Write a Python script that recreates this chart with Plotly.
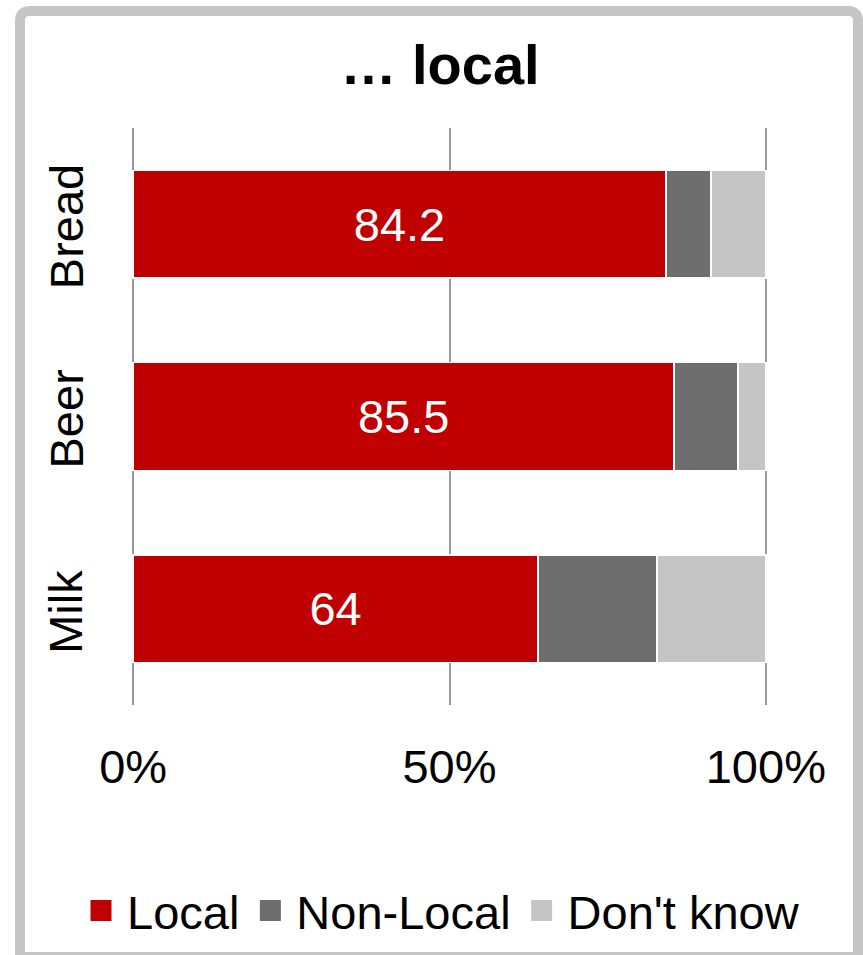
import plotly.graph_objects as go

# Share of respondents by where the product comes from
categories = ["Bread", "Beer", "Milk"]
local = [84.2, 85.5, 64.0]
non_local = [7.1, 10.1, 18.8]
dont_know = [8.7, 4.4, 17.2]

series_names = ["Local", "Non-Local", "Don't know"]
series_values = [local, non_local, dont_know]
series_colors = ["#c00000", "#6e6e6e", "#c5c5c5"]

x_tick_values = [0, 50, 100]
x_tick_labels = ["0%", "50%", "100%"]
title_text = "\u2026 local"

FONT = "Liberation Sans, Arial, sans-serif"
FS = 47
W, H = 863, 955
# plot area spans a tiny bit beyond 0..100 so edge gridlines are drawn
X_RANGE = [-0.5, 100.5]
ML, MR, MT, MB = 130, 94, 128, 250
PW, PH = W - ML - MR, H - MT - MB


def px(x):
    return (x - ML) / PW


def py(y):
    return (H - MB - y) / PH


fig = go.Figure()

for name, vals, color in zip(series_names, series_values, series_colors):
    is_local = name == "Local"
    fig.add_trace(go.Bar(
        y=categories,
        x=vals,
        name=name,
        orientation="h",
        marker=dict(color=color, line=dict(color="white", width=1.5)),
        text=[f"{v:g}" for v in vals] if is_local else None,
        textposition="inside" if is_local else "none",
        insidetextanchor="middle",
        textfont=dict(color="white", size=FS, family=FONT),
        showlegend=False,
        hoverinfo="x+y+name",
    ))

# Legend entries with larger square swatches
for name, color in zip(series_names, series_colors):
    fig.add_trace(go.Scatter(
        x=[None], y=[None], mode="markers", name=name,
        marker=dict(symbol="square", size=16, color=color,
                    line=dict(color=color, width=5)),
        showlegend=True,
    ))

# Vertical category labels centred on each bar
for cat in categories:
    fig.add_annotation(
        x=px(66), xref="paper", y=cat, yref="y",
        text=cat, textangle=-90, showarrow=False,
        xanchor="center", yanchor="middle", yshift=-3,
        font=dict(size=FS, family=FONT, color="black"),
    )

# Rounded grey frame around the chart
x0, y0, x1, y1, r = px(20), py(11), px(858), py(957), 10
rx, ry = r / PW, r / PH
frame = (
    f"M {x0},{y1} L {x0},{y0 - ry} Q {x0},{y0} {x0 + rx},{y0} "
    f"L {x1 - rx},{y0} Q {x1},{y0} {x1},{y0 - ry} L {x1},{y1} Z"
)
fig.add_shape(type="path", path=frame, xref="paper", yref="paper",
              line=dict(color="#c6c6c6", width=10))

fig.update_layout(
    width=W, height=H,
    margin=dict(l=ML, r=MR, t=MT, b=MB, autoexpand=False),
    paper_bgcolor="white", plot_bgcolor="white",
    barmode="stack",
    bargap=0.44,
    font=dict(family=FONT, color="black", size=FS),
    title=dict(text=title_text, x=440 / W, xanchor="center",
               y=1 - 64 / H, yanchor="middle",
               font=dict(size=56, family=FONT, color="black", weight="bold")),
    xaxis=dict(
        range=X_RANGE, tickmode="array",
        tickvals=x_tick_values, ticktext=x_tick_labels,
        showgrid=True, gridcolor="#999999", gridwidth=2,
        zeroline=False, showline=False, ticks="",
        ticklabelstandoff=30,
        tickfont=dict(size=FS, family=FONT, color="black"),
        fixedrange=True,
    ),
    yaxis=dict(
        categoryorder="array", categoryarray=categories[::-1],
        showticklabels=False, ticks="", showgrid=False, zeroline=False,
        fixedrange=True,
    ),
    legend=dict(
        orientation="h",
        x=px(75), xanchor="left",
        y=py(911), yanchor="middle",
        font=dict(size=FS, family=FONT, color="black"),
        itemwidth=42, traceorder="normal",
        bgcolor="rgba(0,0,0,0)",
    ),
)

fig.write_html("out.html")
